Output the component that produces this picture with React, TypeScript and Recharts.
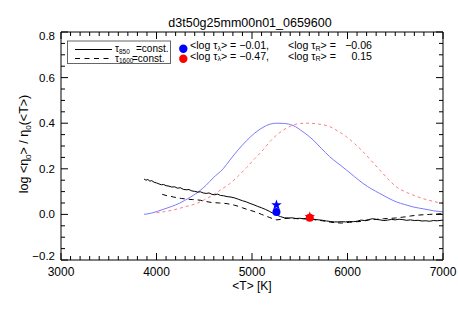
import React from 'react';
import { ComposedChart, Line, Scatter, XAxis, YAxis } from 'recharts';

const FONT = '"Liberation Sans", Arial, Helvetica, sans-serif';

const chartTitle = 'd3t50g25mm00n01_0659600';
const xAxisTitle = '<T> [K]';
const xMajorTicks = [3000, 4000, 5000, 6000, 7000];
const yMajorTicks = [-0.2, 0, 0.2, 0.4, 0.6, 0.8];
const xMinorStep = 100;
const yMinorStep = 0.05;

// blue thin curve (T, value)
const blueCurve: [number, number][] = [
  [3870, 0.0], [3950, 0.006], [4070, 0.022], [4160, 0.035], [4245, 0.05], [4340, 0.072],
  [4436, 0.098], [4520, 0.128], [4593, 0.16], [4698, 0.2], [4768, 0.238], [4855, 0.283],
  [4942, 0.323], [5030, 0.357], [5116, 0.382], [5190, 0.396], [5260, 0.4], [5330, 0.399],
  [5430, 0.39], [5535, 0.362], [5639, 0.327], [5725, 0.29], [5814, 0.253], [5900, 0.224],
  [5988, 0.195], [6075, 0.165], [6162, 0.136], [6250, 0.112], [6337, 0.092], [6425, 0.072],
  [6511, 0.055], [6600, 0.043], [6685, 0.033], [6800, 0.024], [6900, 0.016], [7000, 0.011],
];

// red dashed thin curve
const redCurve: [number, number][] = [
  [4000, 0.007], [4070, 0.011], [4160, 0.018], [4245, 0.027], [4330, 0.037], [4420, 0.048],
  [4505, 0.065], [4593, 0.086], [4680, 0.11], [4768, 0.135], [4855, 0.168], [4942, 0.205],
  [5030, 0.245], [5116, 0.283], [5200, 0.325], [5291, 0.359], [5360, 0.378], [5430, 0.392],
  [5510, 0.399], [5587, 0.4], [5700, 0.396], [5814, 0.385], [5900, 0.365], [5988, 0.341],
  [6075, 0.31], [6162, 0.275], [6250, 0.235], [6337, 0.195], [6425, 0.155], [6511, 0.121],
  [6600, 0.1], [6685, 0.085], [6800, 0.068], [6900, 0.057], [7000, 0.048],
];

// black solid (tau850 = const.)
const solidCurve: [number, number][] = [
  [3870, 0.155], [3890, 0.15], [3910, 0.153], [3930, 0.146], [3950, 0.148], [3975, 0.141],
  [4000, 0.138], [4025, 0.134], [4050, 0.13], [4075, 0.131], [4100, 0.126], [4130, 0.124],
  [4160, 0.12], [4190, 0.121], [4220, 0.115], [4250, 0.117], [4280, 0.11], [4310, 0.108],
  [4340, 0.109], [4370, 0.103], [4400, 0.101], [4430, 0.098], [4460, 0.099], [4490, 0.094],
  [4520, 0.092], [4550, 0.094], [4580, 0.088], [4610, 0.086], [4640, 0.089], [4670, 0.083],
  [4700, 0.082], [4740, 0.078], [4780, 0.076], [4820, 0.072], [4860, 0.066], [4900, 0.06],
  [4940, 0.055], [4980, 0.048], [5020, 0.042], [5060, 0.035], [5100, 0.029], [5140, 0.022],
  [5180, 0.014], [5220, 0.005], [5260, -0.003], [5300, -0.01], [5340, -0.015], [5380, -0.016],
  [5420, -0.015], [5460, -0.018], [5500, -0.017], [5540, -0.019], [5580, -0.018], [5620, -0.02],
  [5660, -0.022], [5700, -0.024], [5740, -0.026], [5780, -0.029], [5820, -0.031], [5860, -0.033],
  [5900, -0.033], [5940, -0.032], [5980, -0.033], [6020, -0.031], [6060, -0.032], [6100, -0.03],
  [6140, -0.025], [6180, -0.027], [6220, -0.023], [6260, -0.019], [6300, -0.022], [6340, -0.024],
  [6380, -0.027], [6420, -0.025], [6460, -0.022], [6500, -0.024], [6540, -0.021], [6580, -0.023],
  [6620, -0.026], [6660, -0.024], [6700, -0.027], [6740, -0.026], [6780, -0.029], [6820, -0.028],
  [6860, -0.03], [6900, -0.027], [6940, -0.028], [6980, -0.026], [7000, -0.025],
];

// black dashed (tau1600 = const.)
const dashedCurve: [number, number][] = [
  [4060, 0.088], [4100, 0.083], [4140, 0.08], [4180, 0.076], [4220, 0.073], [4260, 0.07],
  [4300, 0.068], [4340, 0.066], [4380, 0.065], [4420, 0.064], [4460, 0.062], [4500, 0.058],
  [4540, 0.055], [4580, 0.052], [4620, 0.051], [4660, 0.05], [4700, 0.049], [4740, 0.047],
  [4780, 0.044], [4820, 0.04], [4860, 0.035], [4900, 0.029], [4940, 0.023], [4980, 0.018],
  [5020, 0.013], [5060, 0.007], [5100, 0.0], [5140, -0.006], [5180, -0.013], [5220, -0.019],
  [5260, -0.024], [5300, -0.022], [5340, -0.018], [5380, -0.017], [5420, -0.019], [5460, -0.018],
  [5500, -0.02], [5540, -0.019], [5580, -0.021], [5620, -0.018], [5660, -0.024], [5700, -0.026],
  [5740, -0.028], [5780, -0.031], [5820, -0.034], [5860, -0.036], [5900, -0.037], [5940, -0.038],
  [5980, -0.036], [6020, -0.035], [6060, -0.033], [6100, -0.032], [6140, -0.031], [6180, -0.028],
  [6220, -0.025], [6260, -0.021], [6300, -0.022], [6340, -0.02], [6380, -0.019], [6420, -0.018],
  [6460, -0.017], [6500, -0.016], [6540, -0.014], [6580, -0.012], [6620, -0.01], [6660, -0.007],
  [6700, -0.005], [6740, -0.003], [6780, -0.002], [6820, -0.001], [6860, 0.0], [6900, 0.001],
  [6940, 0.002], [6980, 0.003], [7000, 0.004],
];

const blueCircle: [number, number][] = [[5256, 0.01]];
const blueStar: [number, number][] = [[5256, 0.041]];
const redCircle: [number, number][] = [[5605, -0.015]];
const redStar: [number, number][] = [[5605, -0.01]];

const legendRows = [
  { color: '#0000ff', tauLambda: '\u22120.01,', tauR: '\u22120.06' },
  { color: '#ff0000', tauLambda: '\u22120.47,', tauR: '0.15' },
];

const toPts = (arr: [number, number][]) => arr.map(([T, v]) => ({ T, v }));

const xTicks: number[] = [];
for (let t = xMajorTicks[0]; t <= xMajorTicks[xMajorTicks.length - 1]; t += xMinorStep) xTicks.push(t);
const yTicks: number[] = [];
for (let i = 0; i <= 20; i++) yTicks.push(Math.round((yMajorTicks[0] + i * yMinorStep) * 100) / 100);

const isMajorX = (v: number) => xMajorTicks.includes(v);
const isMajorY = (v: number) => yMajorTicks.some((m) => Math.abs(m - v) < 1e-6);
const fmtY = (v: number) => (v < 0 ? '\u2212' : '') + Math.abs(v).toFixed(1);

const BottomTick = (p: any) => {
  const x = Number(p.x);
  const y = Number(p.y);
  const v = p.payload.value;
  const major = isMajorX(v);
  const len = major ? 7 : 4;
  return (
    <g>
      <rect x={x - 0.5} y={y - len} width={1} height={len} fill="#000" stroke="none" />
      {major && (
        <text x={x} y={y + 16} textAnchor="middle" fontSize={12} fontFamily={FONT} fill="#000" stroke="none">
          {v}
        </text>
      )}
    </g>
  );
};

const TopTick = (p: any) => {
  const x = Number(p.x);
  const y = Number(p.y);
  const len = isMajorX(p.payload.value) ? 7 : 4;
  return <rect x={x - 0.5} y={y} width={1} height={len} fill="#000" stroke="none" />;
};

const LeftTick = (p: any) => {
  const x = Number(p.x);
  const y = Number(p.y);
  const v = p.payload.value;
  const major = isMajorY(v);
  const len = major ? 7 : 4;
  let dy = 4;
  if (Math.abs(v - yMajorTicks[0]) < 1e-6) dy = 0;
  if (Math.abs(v - yMajorTicks[yMajorTicks.length - 1]) < 1e-6) dy = 8;
  return (
    <g>
      <rect x={x} y={y - 0.5} width={len} height={1} fill="#000" stroke="none" />
      {major && (
        <text x={x - 6} y={y + dy} textAnchor="end" fontSize={11.5} fontFamily={FONT} fill="#000" stroke="none">
          {fmtY(v)}
        </text>
      )}
    </g>
  );
};

const RightTick = (p: any) => {
  const x = Number(p.x);
  const y = Number(p.y);
  const len = isMajorY(p.payload.value) ? 7 : 4;
  return <rect x={x - len} y={y - 0.5} width={len} height={1} fill="#000" stroke="none" />;
};

const starPoints = (cx: number, cy: number, ro: number, ri: number) => {
  const pts: string[] = [];
  for (let i = 0; i < 10; i++) {
    const r = i % 2 === 0 ? ro : ri;
    const a = -Math.PI / 2 + (i * Math.PI) / 5;
    pts.push(`${cx + r * Math.cos(a)},${cy + r * Math.sin(a)}`);
  }
  return pts.join(' ');
};

const makeCircle = (color: string) => (p: any) => <circle cx={p.cx} cy={p.cy} r={4} fill={color} />;
const makeStar = (color: string) => (p: any) => (
  <polygon points={starPoints(p.cx, p.cy, 5.5, 2.2)} fill={color} />
);

export default function App() {
  return (
    <div style={{ position: 'absolute', left: 0, top: 0, width: 458, height: 309, background: '#fff' }}>
      <ComposedChart width={458} height={309} margin={{ top: 30, right: 13, bottom: 19, left: 11 }}>
        <XAxis
          xAxisId="b"
          type="number"
          dataKey="T"
          domain={[3000, 7000]}
          ticks={xTicks}
          interval={0}
          tick={<BottomTick />}
          tickLine={false}
          tickSize={0}
          tickMargin={0}
          axisLine={{ stroke: '#000', strokeWidth: 1 }}
          height={30}
          allowDataOverflow
        />
        <XAxis
          xAxisId="t"
          orientation="top"
          type="number"
          dataKey="T"
          domain={[3000, 7000]}
          ticks={xTicks}
          interval={0}
          tick={<TopTick />}
          tickLine={false}
          tickSize={0}
          tickMargin={0}
          axisLine={{ stroke: '#000', strokeWidth: 1 }}
          height={2}
          allowDataOverflow
        />
        <YAxis
          yAxisId="l"
          type="number"
          domain={[-0.2, 0.8]}
          ticks={yTicks}
          interval={0}
          tick={<LeftTick />}
          tickLine={false}
          tickSize={0}
          tickMargin={0}
          axisLine={{ stroke: '#000', strokeWidth: 1 }}
          width={50}
          allowDataOverflow
        />
        <YAxis
          yAxisId="r"
          orientation="right"
          type="number"
          domain={[-0.2, 0.8]}
          ticks={yTicks}
          interval={0}
          tick={<RightTick />}
          tickLine={false}
          tickSize={0}
          tickMargin={0}
          axisLine={{ stroke: '#000', strokeWidth: 1 }}
          width={2}
          allowDataOverflow
        />
        <Line xAxisId="b" yAxisId="l" data={toPts(blueCurve)} dataKey="v" type="monotone" stroke="#7b7bff" strokeWidth={1} dot={false} isAnimationActive={false} />
        <Line xAxisId="b" yAxisId="l" data={toPts(redCurve)} dataKey="v" type="monotone" stroke="#ff8080" strokeWidth={1} strokeDasharray="3 3" dot={false} isAnimationActive={false} />
        <Line xAxisId="b" yAxisId="l" data={toPts(solidCurve)} dataKey="v" type="linear" stroke="#000" strokeWidth={1} dot={false} isAnimationActive={false} />
        <Line xAxisId="b" yAxisId="l" data={toPts(dashedCurve)} dataKey="v" type="linear" stroke="#000" strokeWidth={1} strokeDasharray="5 4" dot={false} isAnimationActive={false} />
        <Scatter xAxisId="b" yAxisId="l" data={toPts(blueStar)} dataKey="v" shape={makeStar('#0000ff')} isAnimationActive={false} />
        <Scatter xAxisId="b" yAxisId="l" data={toPts(blueCircle)} dataKey="v" shape={makeCircle('#0000ff')} isAnimationActive={false} />
        <Scatter xAxisId="b" yAxisId="l" data={toPts(redStar)} dataKey="v" shape={makeStar('#ff0000')} isAnimationActive={false} />
        <Scatter xAxisId="b" yAxisId="l" data={toPts(redCircle)} dataKey="v" shape={makeCircle('#ff0000')} isAnimationActive={false} />
      </ComposedChart>
      <svg
        width={458}
        height={309}
        style={{ position: 'absolute', left: 0, top: 0, pointerEvents: 'none' }}
        fontFamily={FONT}
      >
        <text x={250} y={26.5} textAnchor="middle" fontSize={12.5} fill="#000">
          {chartTitle}
        </text>
        <text x={252} y={290} textAnchor="middle" fontSize={12} fill="#000">
          {xAxisTitle}
        </text>
        <text x={28} y={144} textAnchor="middle" fontSize={12.5} fill="#000" transform="rotate(-90 28 144)">
          {'log <\u03b7'}
          <tspan fontSize={8} dy={3}>0</tspan>
          <tspan dy={-3}>{'> / \u03b7'}</tspan>
          <tspan fontSize={8} dy={3}>0</tspan>
          <tspan dy={-3}>{'(<T>)'}</tspan>
        </text>
        {/* legend box */}
        <rect x={67.5} y={41} width={103} height={22.5} fill="#fff" stroke="#666" strokeWidth={1} />
        <line x1={75} y1={49.5} x2={112} y2={49.5} stroke="#000" strokeWidth={1} />
        <line x1={75} y1={58.5} x2={112} y2={58.5} stroke="#000" strokeWidth={1} strokeDasharray="5 4.5" />
        <text x={115} y={52} fontSize={10} fill="#000">
          {'\u03c4'}
          <tspan fontSize={6.5} dy={1.5}>850</tspan>
          <tspan x={136} dy={-1.5}>=const.</tspan>
        </text>
        <text x={115} y={61.5} fontSize={10} fill="#000">
          {'\u03c4'}
          <tspan fontSize={6.5} dy={1.5}>1600</tspan>
          <tspan x={132} dy={-1.5}>=const.</tspan>
        </text>
        {legendRows.map((r, i) => {
          const by = 49 + i * 10.6;
          return (
            <g key={i}>
              <circle cx={183.3} cy={48.8 + i * 10} r={4.2} fill={r.color} />
              <text x={190} y={by} fontSize={10.6} fill="#000">
                {'<log \u03c4'}
                <tspan fontSize={7} dy={1.5}>{'\u03bb'}</tspan>
                <tspan dy={-1.5}>{'> = ' + r.tauLambda}</tspan>
              </text>
              <text x={288} y={by} fontSize={10.6} fill="#000">
                {'<log \u03c4'}
                <tspan fontSize={7} dy={1.5}>R</tspan>
                <tspan dy={-1.5}>{'> ='}</tspan>
              </text>
              <text x={372} y={by} fontSize={10.6} textAnchor="end" fill="#000">
                {r.tauR}
              </text>
            </g>
          );
        })}
      </svg>
    </div>
  );
}
